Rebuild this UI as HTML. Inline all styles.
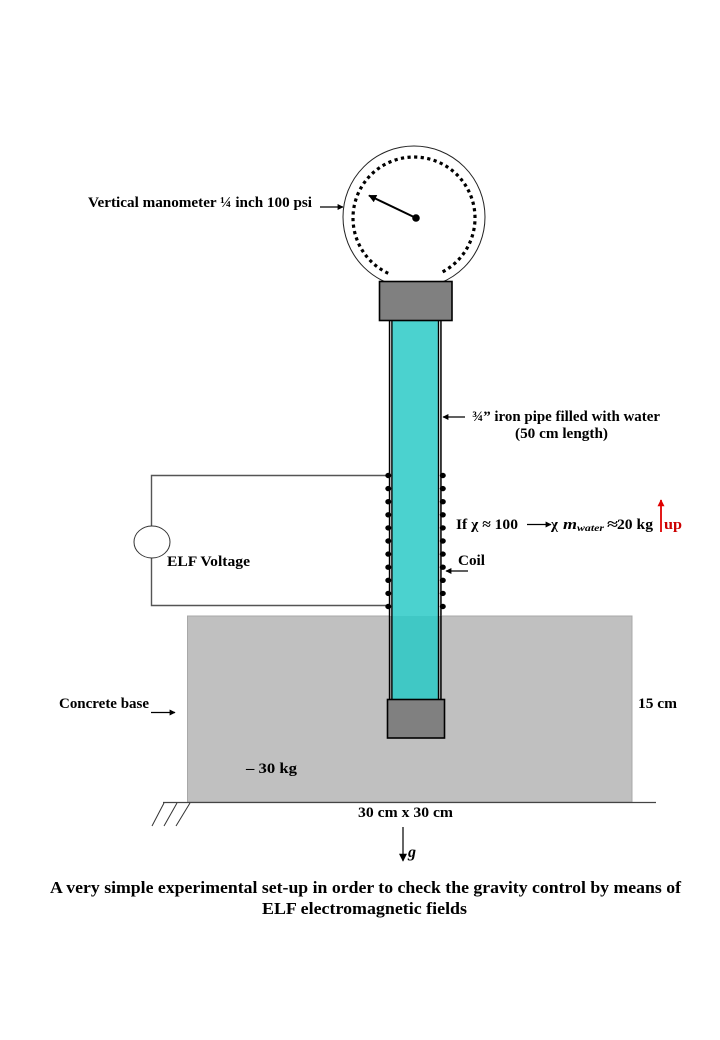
<!DOCTYPE html>
<html>
<head>
<meta charset="utf-8">
<style>
  html,body{margin:0;padding:0;background:#fff;}
  svg{display:block;}
  text{font-family:"Liberation Serif","DejaVu Serif",serif;font-weight:bold;fill:#000;}
</style>
</head>
<body>
<svg width="720" height="1040" viewBox="0 0 720 1040" xmlns="http://www.w3.org/2000/svg">
  <defs>
    <marker id="ah" viewBox="0 0 10 10" refX="9" refY="5" markerWidth="7" markerHeight="6" orient="auto" markerUnits="userSpaceOnUse">
      <path d="M0,0 L10,5 L0,10 z" fill="#000"/>
    </marker>
    <marker id="ahr" viewBox="0 0 10 10" refX="9" refY="5" markerWidth="8" markerHeight="7" orient="auto" markerUnits="userSpaceOnUse">
      <path d="M0,0 L10,5 L0,10 z" fill="#e00000"/>
    </marker>
    <marker id="ahn" viewBox="0 0 10 10" refX="9" refY="5" markerWidth="9" markerHeight="8" orient="auto" markerUnits="userSpaceOnUse">
      <path d="M0,0 L10,5 L0,10 z" fill="#000"/>
    </marker>
  </defs>

  <!-- Gauge -->
  <circle cx="414" cy="217" r="71" fill="#fff" stroke="#222" stroke-width="1"/>
  <path d="M388.2,273.3 A61,61 0 1 1 439.8,273.3" fill="none" stroke="#000" stroke-width="3.2" stroke-dasharray="3.2 3.4"/>
  <line x1="416" y1="218" x2="369" y2="195.5" stroke="#000" stroke-width="2" marker-end="url(#ahn)"/>
  <circle cx="416" cy="218" r="3.8" fill="#000"/>

  <!-- Gauge label -->
  <text x="88" y="207" font-size="15" textLength="224" lengthAdjust="spacingAndGlyphs">Vertical manometer ¼ inch 100 psi</text>
  <line x1="320" y1="207" x2="343" y2="207" stroke="#000" stroke-width="1.2" marker-end="url(#ah)"/>

  <!-- Circuit wires -->
  <polyline points="389,475.5 151.5,475.5 151.5,605.5 389,605.5" fill="none" stroke="#555" stroke-width="1.4"/>
  <ellipse cx="152" cy="542" rx="18" ry="16" fill="#fff" stroke="#333" stroke-width="1"/>
  <text x="167" y="566" font-size="14.5" textLength="83" lengthAdjust="spacingAndGlyphs">ELF Voltage</text>

  <!-- Concrete base -->
  <rect x="187.5" y="616" width="444.5" height="186" fill="#c0c0c0" stroke="#a8a8a8" stroke-width="1"/>
  <line x1="163" y1="802.5" x2="656" y2="802.5" stroke="#444" stroke-width="1.3"/>
  <line x1="164" y1="803" x2="152" y2="826" stroke="#333" stroke-width="1"/>
  <line x1="177" y1="803" x2="164" y2="826" stroke="#333" stroke-width="1"/>
  <line x1="190" y1="803" x2="176" y2="826" stroke="#333" stroke-width="1"/>

  <!-- Pipe -->
  <rect x="389" y="321" width="53" height="295" fill="#fff"/>
  <rect x="392.3" y="321" width="45.6" height="295" fill="#4bd2cf"/>
  <rect x="392.3" y="616" width="45.6" height="83" fill="#40c8c5"/>
  <g fill="#000">
    <rect x="388.8" y="321" width="1.5" height="378"/>
    <rect x="391.2" y="321" width="1.4" height="378"/>
    <rect x="437.8" y="321" width="1.4" height="378"/>
    <rect x="440.2" y="321" width="1.5" height="378"/>
  </g>

  <!-- Coil dots -->
  <g fill="#000">
    <ellipse cx="388.3" cy="475.5" rx="3" ry="2.7"/>
    <ellipse cx="388.3" cy="488.6" rx="3" ry="2.7"/>
    <ellipse cx="388.3" cy="501.7" rx="3" ry="2.7"/>
    <ellipse cx="388.3" cy="514.8" rx="3" ry="2.7"/>
    <ellipse cx="388.3" cy="527.9" rx="3" ry="2.7"/>
    <ellipse cx="388.3" cy="541" rx="3" ry="2.7"/>
    <ellipse cx="388.3" cy="554.1" rx="3" ry="2.7"/>
    <ellipse cx="388.3" cy="567.2" rx="3" ry="2.7"/>
    <ellipse cx="388.3" cy="580.3" rx="3" ry="2.7"/>
    <ellipse cx="388.3" cy="593.4" rx="3" ry="2.7"/>
    <ellipse cx="388.3" cy="606.5" rx="3" ry="2.7"/>
    <ellipse cx="442.8" cy="475.5" rx="3" ry="2.7"/>
    <ellipse cx="442.8" cy="488.6" rx="3" ry="2.7"/>
    <ellipse cx="442.8" cy="501.7" rx="3" ry="2.7"/>
    <ellipse cx="442.8" cy="514.8" rx="3" ry="2.7"/>
    <ellipse cx="442.8" cy="527.9" rx="3" ry="2.7"/>
    <ellipse cx="442.8" cy="541" rx="3" ry="2.7"/>
    <ellipse cx="442.8" cy="554.1" rx="3" ry="2.7"/>
    <ellipse cx="442.8" cy="567.2" rx="3" ry="2.7"/>
    <ellipse cx="442.8" cy="580.3" rx="3" ry="2.7"/>
    <ellipse cx="442.8" cy="593.4" rx="3" ry="2.7"/>
    <ellipse cx="442.8" cy="606.5" rx="3" ry="2.7"/>
  </g>

  <!-- Caps -->
  <rect x="379.5" y="281.5" width="72.5" height="39" fill="#808080" stroke="#000" stroke-width="1.6"/>
  <rect x="387.5" y="699.5" width="57" height="38.5" fill="#808080" stroke="#000" stroke-width="1.6"/>

  <!-- Pipe label -->
  <line x1="465" y1="417" x2="443" y2="417" stroke="#000" stroke-width="1.2" marker-end="url(#ah)"/>
  <text x="472" y="421" font-size="15" textLength="188" lengthAdjust="spacingAndGlyphs">¾” iron pipe filled with water</text>
  <text x="515" y="438" font-size="15" textLength="93" lengthAdjust="spacingAndGlyphs">(50 cm length)</text>

  <!-- Chi formula -->
  <text x="456" y="529" font-size="15" textLength="62" lengthAdjust="spacingAndGlyphs">If χ ≈ 100</text>
  <line x1="527" y1="524.5" x2="551" y2="524.5" stroke="#000" stroke-width="1.2" marker-end="url(#ah)"/>
  <text x="551" y="529" font-size="15">χ</text>
  <text x="563" y="529" font-size="15" font-style="italic" textLength="14" lengthAdjust="spacingAndGlyphs">m</text>
  <text x="577" y="531" font-size="9" font-style="italic" textLength="27" lengthAdjust="spacingAndGlyphs">water</text>
  <text x="607" y="529" font-size="15" textLength="11" lengthAdjust="spacingAndGlyphs">≈</text>
  <text x="617" y="529" font-size="15" textLength="36" lengthAdjust="spacingAndGlyphs">20 kg</text>
  <line x1="661" y1="532" x2="661" y2="500" stroke="#e00000" stroke-width="1.8" marker-end="url(#ahr)"/>
  <text x="664" y="529" font-size="15" style="fill:#cc0000" textLength="18" lengthAdjust="spacingAndGlyphs">up</text>

  <!-- Coil label -->
  <text x="458" y="565" font-size="15" textLength="27" lengthAdjust="spacingAndGlyphs">Coil</text>
  <line x1="468" y1="571" x2="446" y2="571" stroke="#000" stroke-width="1.2" marker-end="url(#ah)"/>

  <!-- Concrete labels -->
  <text x="59" y="708" font-size="15" textLength="90" lengthAdjust="spacingAndGlyphs">Concrete base</text>
  <line x1="151" y1="712.5" x2="175" y2="712.5" stroke="#000" stroke-width="1.2" marker-end="url(#ah)"/>
  <text x="638" y="708" font-size="15" textLength="39" lengthAdjust="spacingAndGlyphs">15 cm</text>
  <text x="246" y="773" font-size="15" textLength="51" lengthAdjust="spacingAndGlyphs">– 30 kg</text>
  <text x="358" y="817" font-size="15" textLength="95" lengthAdjust="spacingAndGlyphs">30 cm x 30 cm</text>

  <!-- g arrow -->
  <line x1="403" y1="827" x2="403" y2="861" stroke="#000" stroke-width="1.2" marker-end="url(#ahn)"/>
  <text x="408" y="857" font-size="16" font-style="italic">g</text>

  <!-- Caption -->
  <text x="50" y="893" font-size="17" textLength="631" lengthAdjust="spacingAndGlyphs">A very simple experimental set-up in order to check the gravity control by means of</text>
  <text x="262" y="914" font-size="17" textLength="205" lengthAdjust="spacingAndGlyphs">ELF electromagnetic fields</text>
</svg>
</body>
</html>
